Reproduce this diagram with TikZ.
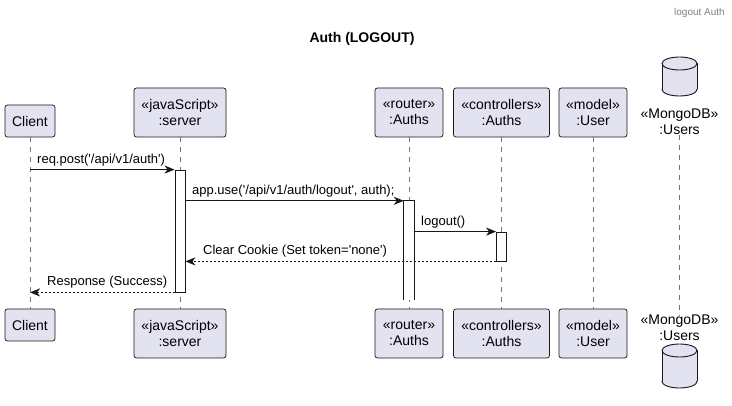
\documentclass[tikz,border=0pt]{standalone}
\usepackage{fontspec}
\setmainfont{Liberation Sans}[Ligatures=TeXOff]
\usetikzlibrary{arrows.meta}
\definecolor{pfill}{HTML}{E2E2F0}
\definecolor{pline}{HTML}{181818}
\newcommand{\dbcyl}[3]{% x, top y, bottom y
  \draw[draw=pline,fill=pfill,line width=0.9pt] (#1,#3-6.5) ellipse [x radius=17.5pt,y radius=6.5pt];
  \fill[pfill] (#1-17.5,#2+6.5) rectangle (#1+17.5,#3-6.5);
  \draw[draw=pline,line width=0.9pt] (#1-17.5,#2+6.5) -- (#1-17.5,#3-6.5) (#1+17.5,#2+6.5) -- (#1+17.5,#3-6.5);
  \draw[draw=pline,fill=pfill,line width=0.9pt] (#1,#2+6.5) ellipse [x radius=17.5pt,y radius=6.5pt];
}
\begin{document}
\begin{tikzpicture}[x=1pt,y=-1pt,
  part/.style={draw=pline,fill=pfill,rounded corners=2.5pt,line width=0.7pt,inner sep=0pt,
    font=\fontsize{14}{16}\selectfont,align=center},
  plain/.style={inner sep=0pt,font=\fontsize{14}{16}\selectfont,align=center},
  act/.style={draw=pline,fill=white,line width=0.8pt,minimum width=10pt,inner sep=0pt},
  life/.style={draw=black!55,line width=0.6pt,dash pattern=on 5pt off 5pt},
  msg/.style={draw=pline,line width=0.9pt,-{Stealth[length=10pt,width=8pt,inset=3pt]}},
  ret/.style={msg,dash pattern=on 2pt off 2pt},
  lbl/.style={font=\fontsize{13}{15}\selectfont,inner sep=0pt,anchor=base west},
]
\useasboundingbox (0,0) rectangle (732,406);
\fill[white] (0,0) rectangle (732,406);

% header and title
\node[anchor=base east,inner sep=0pt,font=\fontsize{10}{12}\selectfont,text=black!50] (hdr) at (725,15.5) {logout Auth};
\node[inner sep=0pt,font=\fontsize{14}{16}\selectfont\bfseries] (ttl) at (362,39) {Auth (LOGOUT)};

% participants top
\node[part,minimum width=50pt,minimum height=32pt] (clientT) at (30,121) {Client};
\node[part,minimum width=92pt,minimum height=49pt] (serverT) at (180,112.5) {«javaScript»\\:server};
\node[part,minimum width=68pt,minimum height=49pt] (routerT) at (409,112.5) {«router»\\:Auths};
\node[part,minimum width=96pt,minimum height=49pt] (ctrlT) at (501.5,112.5) {«controllers»\\:Auths};
\node[part,minimum width=68pt,minimum height=49pt] (modelT) at (593,112.5) {«model»\\:User};
\dbcyl{679.5}{57}{96}
\node[plain] (mongoT) at (679.5,121.5) {«MongoDB»\\:Users};

% participants bottom
\node[part,minimum width=50pt,minimum height=32pt] (clientB) at (30,325) {Client};
\node[part,minimum width=92pt,minimum height=49pt] (serverB) at (180,333.5) {«javaScript»\\:server};
\node[part,minimum width=68pt,minimum height=49pt] (routerB) at (409,333.5) {«router»\\:Auths};
\node[part,minimum width=96pt,minimum height=49pt] (ctrlB) at (501.5,333.5) {«controllers»\\:Auths};
\node[part,minimum width=68pt,minimum height=49pt] (modelB) at (593,333.5) {«model»\\:User};
\node[plain] (mongoB) at (679.5,328) {«MongoDB»\\:Users};
\dbcyl{679.5}{344}{388}

% lifelines
\draw[life] (clientT.south) -- (clientB.north);
\draw[life] (serverT.south) -- (serverB.north);
\draw[life] (routerT.south) -- (routerB.north);
\draw[life] (ctrlT.south) -- (ctrlB.north);
\draw[life] (modelT.south) -- (modelB.north);
\draw[life] (mongoT.south) -- (mongoB.north);

% activations
\node[act,minimum height=122pt] (a1) at (180,231) {};
\node[minimum width=10pt,minimum height=99pt,inner sep=0pt,fill=white] (a2) at (409,250.5) {};
\draw[draw=pline,line width=0.8pt] (a2.south west) -- (a2.north west) -- (a2.north east) -- (a2.south east);
\node[act,minimum height=29pt] (a3) at (501.5,246.5) {};

% messages
\draw[msg] (clientT.south |- a1.north) -- (a1.north west);
\node[lbl] (m1) at (37,164) {req.post('/api/v1/auth')};
\draw[msg] (a1.east |- a2.north) -- (a2.north west);
\node[lbl] (m2) at (192,195) {app.use('/api/v1/auth/logout', auth);};
\draw[msg] (a2.east |- a3.north) -- (a3.north west);
\node[lbl] (m3) at (421,226) {logout()};
\draw[ret] (a3.south west) -- (a1.east |- a3.south);
\node[lbl] (m4) at (203,255) {Clear Cookie (Set token='none')};
\draw[ret] (a1.south west) -- (clientT.south |- a1.south);
\node[lbl] (m5) at (47,286) {Response (Success)};
\end{tikzpicture}
\end{document}
